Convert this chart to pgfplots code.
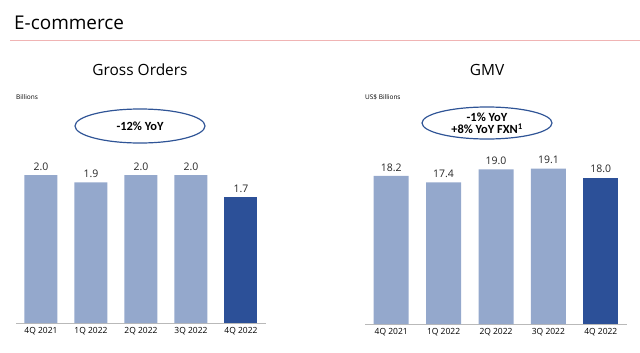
\documentclass[border=0pt]{standalone}
\usepackage{fontspec}
\setmainfont{Open Sans}
\newfontfamily\calibri{Carlito}
\usepackage{pgfplots}
\pgfplotsset{compat=1.18}
\definecolor{barlight}{RGB}{148,168,204}
\definecolor{bardark}{RGB}{44,80,152}
\definecolor{axgray}{RGB}{185,185,185}
\definecolor{ellblue}{RGB}{47,84,150}
\definecolor{redline}{RGB}{240,180,180}
\pgfplotsset{
  salebars/.style={
    scale only axis,
    anchor=south west,
    xmin=-0.5, xmax=4.5, ymin=0,
    axis lines*=left,
    hide y axis,
    x axis line style={axgray, line width=1bp, -},
    xtick={0,1,2,3,4},
    xticklabels={4Q 2021,1Q 2022,2Q 2022,3Q 2022,4Q 2022},
    major tick length=0pt,
    xticklabel style={font=\fontsize{8.5}{10}\selectfont, yshift=-1bp},
    ybar, bar shift=0pt,
    nodes near coords,
    nodes near coords style={font=\fontsize{10.5}{12}\selectfont, text=black!85, yshift=1bp,
      /pgf/number format/.cd, fixed, fixed zerofill, precision=1, assume math mode=true},
    clip=false,
  }
}
\begin{document}
\begin{tikzpicture}
\useasboundingbox (0,0) rectangle (640bp,-353bp);
\node[anchor=base west, inner sep=0, font=\fontsize{19}{22}\selectfont] at (14bp,-29bp) {E-commerce};
\draw[redline, line width=1bp] (10bp,-40bp) -- (640bp,-40bp);

% Left chart
\node[font=\fontsize{15.5}{18}\selectfont, inner sep=0] at (140bp,-70bp) {Gross Orders};
\node[anchor=base west, font=\fontsize{6.5}{8}\selectfont, inner sep=0] at (16bp,-99bp) {Billions};
\draw[ellblue, line width=1.2bp] (140bp,-126bp) ellipse [x radius=65bp, y radius=17bp];
\node[font=\calibri\bfseries\fontsize{12.5}{14}\selectfont] at (140bp,-126bp) {-12\% YoY};
\begin{axis}[salebars, at={(16bp,-323bp)}, width=250bp, height=185bp, ymax=2.5, bar width=33bp]
\addplot[fill=barlight, draw=none] coordinates {(0,2.0) (1,1.9) (2,2.0) (3,2.0)};
\addplot[fill=bardark, draw=none] coordinates {(4,1.7)};
\end{axis}

% Right chart
\node[font=\fontsize{15.5}{18}\selectfont, inner sep=0] at (487bp,-70bp) {GMV};
\node[anchor=base west, font=\fontsize{6.5}{8}\selectfont, inner sep=0] at (365bp,-99bp) {US\$ Billions};
\draw[ellblue, line width=1.2bp] (487bp,-123bp) ellipse [x radius=65bp, y radius=16bp];
\node[font=\calibri\bfseries\fontsize{12.5}{12.5}\selectfont, align=center] at (487bp,-123bp) {-1\% YoY\\+8\% YoY FXN\textsuperscript{1}};
\begin{axis}[salebars, at={(365bp,-324bp)}, width=262bp, height=179bp, ymax=22, bar width=35bp]
\addplot[fill=barlight, draw=none] coordinates {(0,18.2) (1,17.4) (2,19.0) (3,19.1)};
\addplot[fill=bardark, draw=none] coordinates {(4,18.0)};
\end{axis}
\end{tikzpicture}
\end{document}
